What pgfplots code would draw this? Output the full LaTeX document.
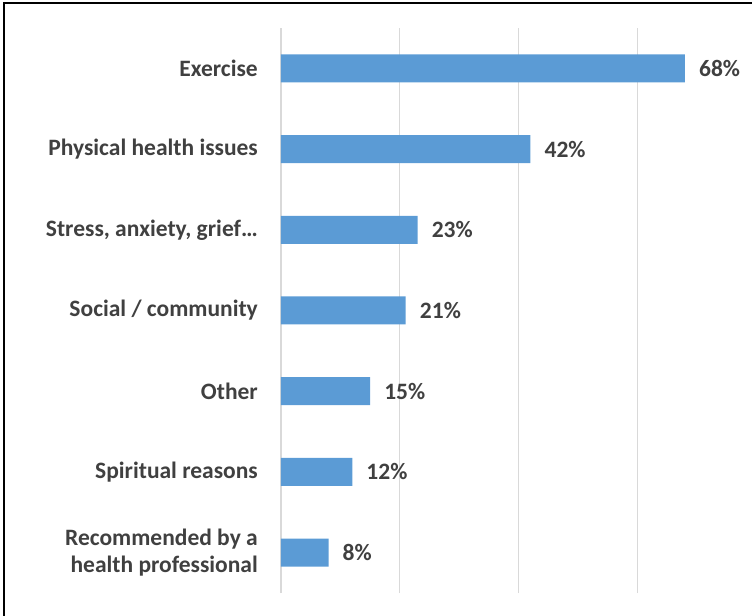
\documentclass[border=0pt]{standalone}
\usepackage{pgfplots}
\pgfplotsset{compat=1.18}
\usepackage{fontspec}
\setmainfont{Carlito}
\usetikzlibrary{calc}
\definecolor{barblue}{HTML}{5B9BD5}
\definecolor{textgray}{HTML}{404040}
\definecolor{gridgray}{HTML}{D9D9D9}
\begin{document}
\begin{tikzpicture}
\begin{axis}[
  scale only axis,
  width=471bp, height=565bp,
  xmin=0, xmax=79.3,
  ymin=-0.5, ymax=6.5,
  xbar,
  bar width=28bp,
  axis line style={draw=none},
  xtick={0,20,40,60},
  xticklabels=\empty,
  xmajorgrids,
  grid style={color=gridgray, line width=1.2bp},
  major tick length=0pt,
  ytick={0,1,2,3,4,5,6},
  yticklabels={{Recommended by a\\health professional},{Spiritual reasons},{Other},{Social / community},{Stress, anxiety, grief\textellipsis},{Physical health issues},{Exercise}},
  yticklabel style={align=right, font=\bfseries\fontsize{23.5bp}{27bp}\selectfont, text=textgray, inner sep=0pt, xshift=-23bp},
  point meta=x,
  nodes near coords={\pgfmathprintnumber{\pgfplotspointmeta}\%},
  nodes near coords style={font=\bfseries\fontsize{23.5bp}{27bp}\selectfont, text=textgray, anchor=west, inner sep=0pt, xshift=14bp},
  /pgf/number format/assume math mode=true,
]
\addplot[fill=barblue, draw=none] coordinates {(8,0) (12,1) (15,2) (21,3) (23,4) (42,5) (68,6)};
\end{axis}
\pgfresetboundingbox
\path[use as bounding box] ($(current axis.south west)+(-281bp,-23bp)$) rectangle ($(current axis.north east)+(0bp,28bp)$);
\draw[black, line width=2.5bp] ($(current axis.south west)+(-277bp,-23bp)$) -- ($(current axis.north west)+(-277bp,25bp)$) -- ($(current axis.north east)+(0bp,25bp)$);
\end{tikzpicture}
\end{document}
